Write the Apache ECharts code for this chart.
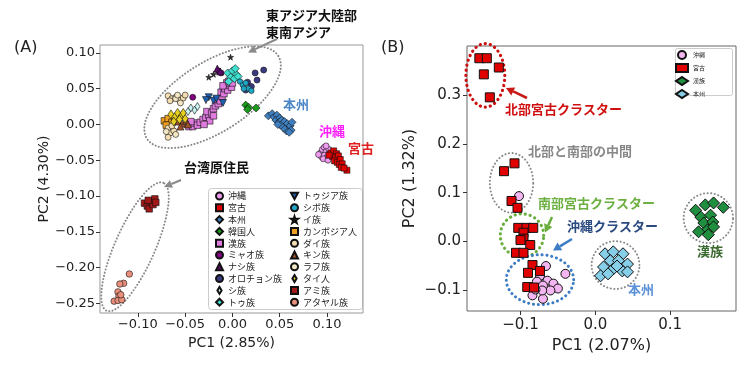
<!DOCTYPE html>
<html><head><meta charset="utf-8">
<script src="https://cdn.jsdelivr.net/npm/echarts@6/dist/echarts.min.js"></script>
<style>html,body{margin:0;padding:0;background:#fff}#c{width:754px;height:368px}</style>
</head><body><div id="c"></div><script>
// ---------- Panel A data ----------
var okinawaA = [[0.093,-0.040],[0.095,-0.035],[0.097,-0.032],[0.099,-0.038],[0.094,-0.045],[0.097,-0.043],[0.100,-0.046],[0.102,-0.035],[0.103,-0.041],[0.096,-0.048],[0.091,-0.042],[0.099,-0.030],[0.101,-0.050]];
var miyakoA = [[0.104,-0.040],[0.107,-0.037],[0.110,-0.041],[0.106,-0.045],[0.109,-0.047],[0.112,-0.044],[0.108,-0.051],[0.111,-0.053],[0.114,-0.049],[0.113,-0.056],[0.116,-0.055],[0.115,-0.060],[0.102,-0.043],[0.121,-0.064],[0.118,-0.061]];
var honshuA = [[0.038,0.012],[0.042,0.015],[0.044,0.010],[0.047,0.013],[0.046,0.006],[0.050,0.009],[0.049,0.003],[0.052,0.006],[0.053,0.000],[0.055,0.004],[0.056,-0.003],[0.058,0.001],[0.059,-0.006],[0.061,-0.002],[0.062,-0.008],[0.057,-0.009],[0.063,0.003],[0.054,-0.005],[0.051,-0.001],[0.048,0.000],[0.060,-0.011]];
var koreanA = [[0.014,0.027],[0.017,0.024],[0.016,0.021],[0.025,0.023]];
var hanA = [[-0.046,-0.003],[-0.042,-0.003],[-0.040,0.002],[-0.037,-0.001],[-0.034,0.003],[-0.031,0.007],[-0.028,0.010],[-0.025,0.013],[-0.027,0.018],[-0.022,0.016],[-0.020,0.022],[-0.018,0.026],[-0.015,0.029],[-0.016,0.035],[-0.013,0.033],[-0.011,0.039],[-0.012,0.045],[-0.009,0.043],[-0.008,0.050],[-0.005,0.048],[-0.003,0.055],[-0.001,0.052],[-0.006,0.058],[-0.010,0.054],[-0.024,0.005],[-0.030,0.000],[-0.044,0.004],[-0.020,0.012],[-0.004,0.060],[0.000,0.058]];
var miaoA = [[-0.015,0.075],[-0.042,0.038],[-0.012,0.072]];
var naxiA = [[-0.016,0.078],[-0.013,0.074]];
var oroqenA = [[0.033,0.076],[0.024,0.072],[0.026,0.062],[0.016,0.059],[0.014,0.048],[0.020,0.053]];
var sheA = [[-0.044,0.023],[-0.040,0.020],[-0.037,0.025],[-0.047,0.018]];
var tuA = [[-0.005,0.072],[0.000,0.075],[0.004,0.070],[-0.002,0.066],[0.002,0.064],[0.006,0.067],[-0.004,0.060],[0.003,0.078]];
var tujiaA = [[-0.025,0.038],[-0.020,0.033],[-0.028,0.034],[-0.010,0.030],[-0.017,0.036]];
var xiboA = [[0.008,0.060],[0.011,0.055],[0.014,0.058],[0.017,0.050],[0.012,0.050],[0.020,0.047]];
var yiA = [[-0.002,0.094],[-0.025,0.066],[-0.020,0.070]];
var cambodiaA = [[-0.072,0.005],[-0.068,0.008],[-0.064,0.003],[-0.070,-0.001],[-0.061,0.007]];
var daiA = [[-0.068,0.040],[-0.064,0.036],[-0.060,0.038],[-0.056,0.034],[-0.052,0.037],[-0.050,0.041],[-0.066,0.033],[-0.068,-0.005],[-0.066,-0.012],[-0.062,-0.009],[-0.068,-0.018],[-0.064,-0.002]];
var kinhA = [[-0.057,0.004],[-0.053,0.001],[-0.049,0.005],[-0.055,-0.003],[-0.047,0.000]];
var lahuA = [[-0.060,0.036],[-0.058,0.041],[-0.055,0.030],[-0.070,-0.010],[-0.060,-0.014]];
var thaiA = [[-0.065,0.014],[-0.061,0.010],[-0.058,0.016],[-0.054,0.012],[-0.050,0.008],[-0.062,0.004],[-0.056,0.007],[-0.052,0.016]];
var amiA = [[-0.093,-0.110],[-0.090,-0.114],[-0.088,-0.118],[-0.086,-0.108],[-0.084,-0.112],[-0.082,-0.104],[-0.081,-0.109],[-0.089,-0.106]];
var atayalA = [[-0.109,-0.209],[-0.115,-0.222],[-0.119,-0.223],[-0.121,-0.234],[-0.120,-0.240],[-0.125,-0.247],[-0.121,-0.246],[-0.117,-0.245],[-0.118,-0.238]];

// ---------- Panel B data ----------
var okinawaB = [[-0.102,0.093],[-0.066,-0.050],[-0.040,-0.066],[-0.074,-0.070],[-0.064,-0.080],[-0.078,-0.082],[-0.070,-0.090],[-0.056,-0.086],[-0.050,-0.096],[-0.084,-0.110],[-0.070,-0.117],[-0.060,-0.100],[-0.071,-0.100],[-0.080,-0.098]];
var miyakoB = [[-0.155,0.375],[-0.145,0.375],[-0.129,0.356],[-0.149,0.342],[-0.141,0.295],[-0.122,0.144],[-0.108,0.160],[-0.112,0.083],[-0.104,0.069],[-0.103,0.028],[-0.092,0.028],[-0.083,0.028],[-0.096,0.018],[-0.096,0.006],[-0.100,0.003],[-0.087,-0.007],[-0.106,-0.023],[-0.096,-0.023],[-0.084,-0.048],[-0.090,-0.064],[-0.074,-0.060],[-0.091,-0.093],[-0.082,-0.094]];
var hanB = [[0.134,0.064],[0.147,0.075],[0.158,0.079],[0.171,0.070],[0.141,0.050],[0.154,0.054],[0.145,0.038],[0.157,0.040],[0.150,0.024],[0.138,0.020],[0.158,0.030],[0.151,0.014]];
var honshuB = [[0.013,-0.025],[0.024,-0.021],[0.037,-0.025],[0.020,-0.039],[0.031,-0.039],[0.043,-0.046],[0.011,-0.052],[0.024,-0.056],[0.036,-0.060],[0.007,-0.070],[0.017,-0.066],[0.043,-0.062],[0.029,-0.050]];

// ---------- tick labels ----------
var ticksAx = [-0.10,-0.05,0.00,0.05,0.10];
var ticksAy = [-0.25,-0.20,-0.15,-0.10,-0.05,0.00,0.05,0.10];
var ticksBx = [-0.1,0.0,0.1];
var ticksBy = [-0.1,0.0,0.1,0.2,0.3];

var legendA1 = ['沖縄','宮古','本州','韓国人','漢族','ミャオ族','ナシ族','オロチョン族','シ族','トゥ族'];
var legendA2 = ['トゥジア族','シボ族','イ族','カンボジア人','ダイ族','キン族','ラフ族','タイ人','アミ族','アタヤル族'];
var legendB = ['沖縄 ','宮古 ','漢族 ','本州 '];

var JP = '"Noto Sans CJK JP", sans-serif';
var DV = '"DejaVu Sans", sans-serif';
function fmt(v, d){ var s = Math.abs(v).toFixed(d); return (v < -1e-9 ? '\u2212' : '') + s; }

var DOWN = 'path://M0,0L10,0L5,9Z';
var STAR = 'path://M5,0L6.2,3.6L10,3.6L6.9,5.9L8.1,9.5L5,7.3L1.9,9.5L3.1,5.9L0,3.6L3.8,3.6Z';
var THIN = 'path://M3,0L6,5L3,10L0,5Z';

function sc(name, data, gi, symbol, size, color, bw){
  return {type:'scatter', name:name, data:data, xAxisIndex:gi, yAxisIndex:gi, symbol:symbol, symbolSize:size,
    itemStyle:{color:color, borderColor:'#111', borderWidth:bw || 0.6, opacity:1}, emphasis:{disabled:true}, z:3};
}
function ell(c, u, v, gi, color, w, dash){
  return {type:'custom', xAxisIndex:gi, yAxisIndex:gi, silent:true, z:2, data:[[c[0], c[1]]],
    renderItem:function(params, api){
      var pts = [];
      for (var i = 0; i < 120; i++){ var t = i/120*2*Math.PI;
        pts.push(api.coord([c[0]+u[0]*Math.cos(t)+v[0]*Math.sin(t), c[1]+u[1]*Math.cos(t)+v[1]*Math.sin(t)])); }
      return {type:'polygon', shape:{points:pts}, style:{fill:'none', stroke:color, lineWidth:w, lineDash:dash, lineCap:'round'}};
    }};
}
function axis(gi, min, max, ticks, dec, name, gap, fs, nfs, isY, margin){
  return {type:'value', gridIndex:gi, min:min, max:max, splitLine:{show:false},
    axisLine:{show:false, onZero:false},
    axisTick:{show:true, length:4, customValues:ticks, lineStyle:{color:'#333', width:1}},
    axisLabel:{customValues:ticks, formatter:function(v){return fmt(v, dec);}, fontSize:fs, color:'#222', fontFamily:DV, margin:margin},
    name:name, nameLocation:'middle', nameGap:gap, nameTextStyle:{fontSize:nfs, color:'#222', fontFamily:DV}};
}
function arrow(x1,y1,x2,y2,color,w,hl,hw){
  var a = Math.atan2(y2-y1, x2-x1), bx = x2-hl*Math.cos(a), by = y2-hl*Math.sin(a);
  var px = -Math.sin(a)*hw, py = Math.cos(a)*hw;
  return [{type:'line', shape:{x1:x1,y1:y1,x2:bx,y2:by}, style:{stroke:color, lineWidth:w}},
          {type:'polygon', shape:{points:[[x2,y2],[bx+px,by+py],[bx-px,by-py]]}, style:{fill:color}}];
}
function txt(s, x, y, color, size, weight, fam){
  return {type:'text', x:x, y:y, style:{text:s, fill:color, fontSize:size, fontWeight:weight||'normal', fontFamily:fam||JP, align:'left', verticalAlign:'top'}};
}

var series = [
  ell([-0.021,0.038],[0.0695,0.0577],[-0.0195,0.0415],0,'#888',2,[0.1,3.2]),
  ell([-0.103,-0.171],[0.030,0.0894],[-0.0193,0.0113],0,'#888',2,[0.1,3.2]),
  sc('沖縄', okinawaA, 0, 'circle', 6, '#ee9aee'),
  sc('宮古', miyakoA, 0, 'rect', 6, '#e00000'),
  sc('本州', honshuA, 0, 'diamond', 8, '#3f7fbf'),
  sc('韓国人', koreanA, 0, 'diamond', 8, '#1a9a1a'),
  sc('漢族', hanA, 0, 'rect', 6.5, '#e07be0'),
  sc('ミャオ族', miaoA, 0, 'circle', 6, '#800080'),
  sc('ナシ族', naxiA, 0, 'triangle', 7, '#5a0a6a'),
  sc('オロチョン族', oroqenA, 0, 'circle', 6, '#3a3a80'),
  sc('シ族', sheA, 0, THIN, [5,8], '#c8f4f4'),
  sc('トゥ族', tuA, 0, 'diamond', 8, '#40e0d0'),
  sc('トゥジア族', tujiaA, 0, DOWN, 7, '#1f5faf'),
  sc('シボ族', xiboA, 0, 'circle', 5.5, '#1fa8c8'),
  sc('イ族', yiA, 0, STAR, 6, '#333333'),
  sc('カンボジア人', cambodiaA, 0, 'rect', 6.5, '#f0a020'),
  sc('ダイ族', daiA, 0, 'circle', 6, '#f5deb3'),
  sc('キン族', kinhA, 0, 'triangle', 7, '#a0522d'),
  sc('ラフ族', lahuA, 0, 'circle', 6, '#f3e6c4'),
  sc('タイ人', thaiA, 0, THIN, [6,9], '#e8d020'),
  sc('アミ族', amiA, 0, 'rect', 6.5, '#a01818'),
  sc('アタヤル族', atayalA, 0, 'circle', 6.5, '#e8907c'),
  ell([-0.147,0.340],[0.026,0],[0,0.065],1,'#cc1010',3.2,[0.1,5]),
  ell([-0.112,0.120],[0.029,0],[0,0.061],1,'#888',2,[0.1,3.5]),
  ell([-0.098,0.0127],[0.029,0],[0,0.044],1,'#6aae3e',3.2,[0.1,5]),
  ell([-0.074,-0.078],[0.045,0],[0,0.051],1,'#3c7cc4',3,[0.1,4.8]),
  ell([0.027,-0.048],[0.032,0],[0,0.049],1,'#888',2,[0.1,3.5]),
  ell([0.151,0.048],[0.033,0],[0,0.051],1,'#888',2,[0.1,3.5]),
  sc('沖縄 ', okinawaB, 1, 'circle', 9, '#f4b6f0', 1),
  sc('宮古 ', miyakoB, 1, 'rect', 9, '#e00000', 1),
  sc('漢族 ', hanB, 1, 'diamond', 12, '#1f8f3f', 1),
  sc('本州 ', honshuB, 1, 'diamond', 12, '#87cee8', 1)
];

var graphics = [
  {type:'rect', shape:{x:208.5, y:188.5, width:154, height:121, r:3}, style:{fill:'#fff', stroke:'#ccc', lineWidth:1}, z:-1},
  {type:'rect', shape:{x:675.5, y:48.5, width:57, height:47, r:2}, style:{fill:'#fff', stroke:'#ccc', lineWidth:1}, z:-1},
  txt('(A)', 14, 40, '#222', 16, 'normal', DV),
  txt('(B)', 381, 40, '#222', 16, 'normal', DV),
  txt('東アジア大陸部', 266, 9, '#111', 13, 'bold'),
  txt('東南アジア', 266, 26, '#111', 13, 'bold'),
  txt('台湾原住民', 184, 161, '#111', 13, 'bold'),
  txt('本州', 283, 98, '#4a86c8', 13, 'bold'),
  txt('沖縄', 319, 125, '#ff20ff', 13, 'bold'),
  txt('宮古', 348, 142, '#e02020', 13, 'bold'),
  txt('北部宮古クラスター', 505, 103, '#d01010', 13, 'bold'),
  txt('北部と南部の中間', 528, 145, '#888888', 13, 'bold'),
  txt('南部宮古クラスター', 538, 197, '#6bb040', 13, 'bold'),
  txt('沖縄クラスター', 567, 220, '#2a4a80', 13, 'bold'),
  txt('漢族', 697, 245, '#3a6a30', 13, 'bold'),
  txt('本州', 628, 283, '#5a90d8', 13, 'bold')
].concat(
  arrow(277,39,248,52.5,'#8a8a8a',2,8,4),
  arrow(181,180,164,187,'#8a8a8a',2,8,4),
  arrow(527,98,506,88,'#c81818',2.5,8,4.5),
  arrow(552,217,545,232.5,'#6aae3e',2.5,8,4.5),
  arrow(572,239,553,250.5,'#3c7cc4',2.5,8,4.5)
);

var chart = echarts.init(document.getElementById('c'), null, {renderer:'canvas'});
chart.setOption({
  animation:false,
  backgroundColor:'#fff',
  grid:[
    {left:100, top:45, width:263, height:268, show:true, borderColor:'#999', borderWidth:1, backgroundColor:'transparent'},
    {left:467, top:46, width:269, height:265, show:true, borderColor:'#666', borderWidth:1, backgroundColor:'transparent'}
  ],
  xAxis:[
    axis(0, -0.14, 0.138, ticksAx, 2, 'PC1 (2.85%)', 19, 13, 14, false, 5),
    axis(1, -0.1715, 0.188, ticksBx, 1, 'PC1 (2.07%)', 26, 15, 16, false, 7)
  ],
  yAxis:[
    axis(0, -0.2635, 0.111, ticksAy, 2, 'PC2 (4.30%)', 47, 13, 14, true, 5),
    axis(1, -0.142, 0.4, ticksBy, 1, 'PC2 (1.32%)', 49, 15, 16, true, 6)
  ],
  legend:[
    {data:legendA1, orient:'vertical', left:215, top:191.5, itemWidth:7, itemHeight:7, itemGap:2.8, padding:0, selectedMode:false, textStyle:{fontSize:9, color:'#222', fontFamily:JP}},
    {data:legendA2, orient:'vertical', left:290, top:191.5, itemWidth:7, itemHeight:7, itemGap:2.8, padding:0, selectedMode:false, textStyle:{fontSize:9, color:'#222', fontFamily:JP}},
    {data:legendB, orient:'vertical', left:675, top:50, itemWidth:12, itemHeight:8, itemGap:3, padding:0, selectedMode:false, textStyle:{fontSize:6, color:'#222', fontFamily:JP}}
  ],
  series:series,
  graphic:graphics
});
</script></body></html>
